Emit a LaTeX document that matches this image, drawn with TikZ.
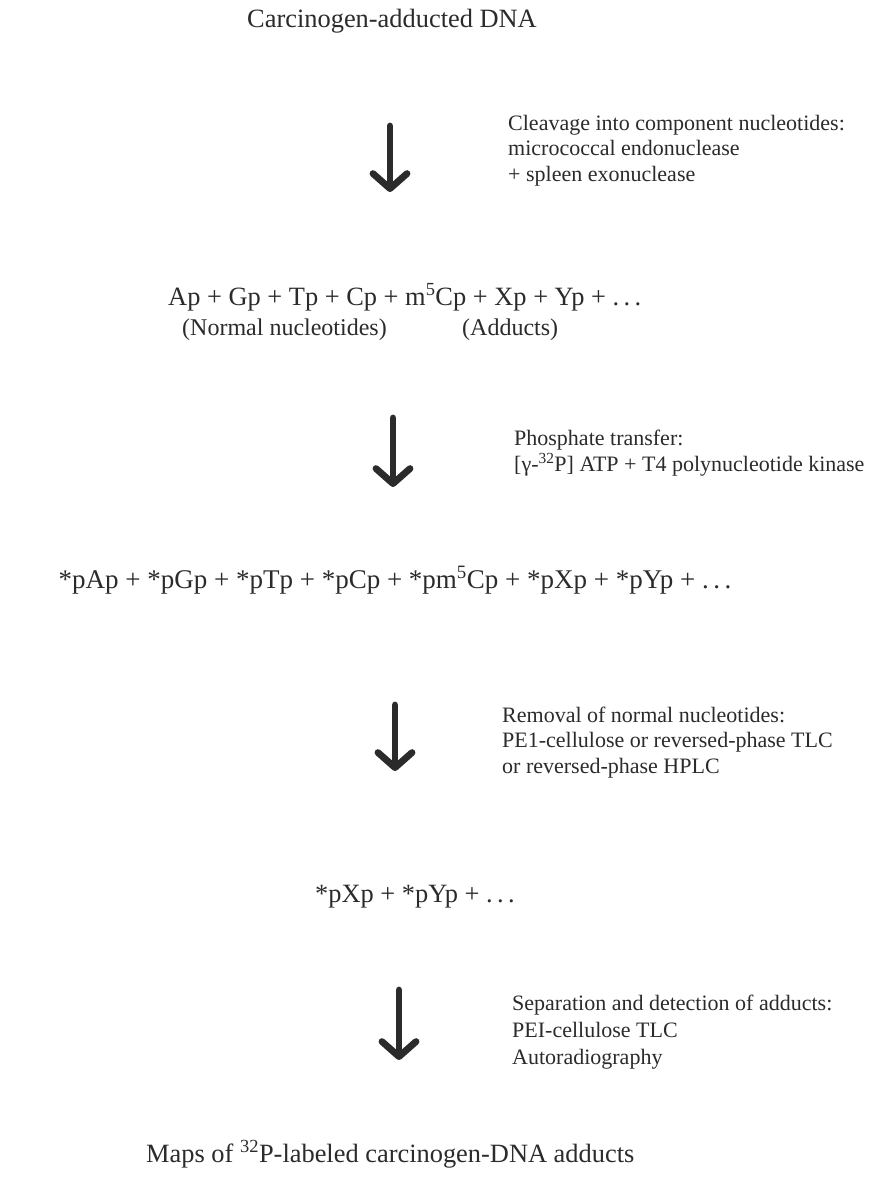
\documentclass[tikz,border=0pt]{standalone}
\usepackage{fontspec}
\setmainfont{Liberation Serif}
\usetikzlibrary{arrows.meta, positioning}
\definecolor{ink}{HTML}{2B2B2B}

\begin{document}
\begin{tikzpicture}[x=1pt, y=-1pt,
    mainline/.style={font=\fontsize{26.4}{30}\selectfont, text=ink, inner sep=0pt, anchor=base},
    steplabel/.style={font=\fontsize{22}{25.5}\selectfont, text=ink, inner sep=0pt,
                      anchor=base west, align=left},
    flow/.style={line width=6.8pt, draw=ink, line cap=round,
                 -{Straight Barb[length=15pt, width=34pt, round]}}]
  % Page
  \useasboundingbox[fill=white] (0,0) rectangle (874,1178);

  % Products, top to bottom
  \node[mainline] (dna) at (392,27) {Carcinogen-adducted DNA};
  \node[mainline, anchor=base west] (nucl) at (168,305)
    {Ap + Gp + Tp + Cp + m\textsuperscript{5}Cp + Xp + Yp + .\,.\,.};
  \node[mainline, anchor=base west, font=\fontsize{24}{28}\selectfont] (normal) at (182,335)
    {(Normal nucleotides)};
  \node[mainline, anchor=base west, font=\fontsize{24}{28}\selectfont] (adducts) at (462,335)
    {(Adducts)};
  \node[mainline, font=\fontsize{27}{30}\selectfont] (labeled) at (395,588)
    {*pAp + *pGp + *pTp + *pCp + *pm\textsuperscript{5}Cp + *pXp + *pYp + .\,.\,.};
  \node[mainline] (adductsx) at (415,902) {*pXp + *pYp + .\,.\,.};
  \node[mainline, anchor=base west] (maps) at (146,1162)
    {Maps of \textsuperscript{32}P-labeled carcinogen-DNA adducts};

  % Steps (anchored on their last line)
  \node[steplabel] (cleave) at (508,181)
    {Cleavage into component nucleotides:\\ micrococcal endonuclease\\ + spleen exonuclease};
  \node[steplabel] (phos) at (514,471)
    {Phosphate transfer:\\ {[}γ-\textsuperscript{32}P{]} ATP + T4 polynucleotide kinase};
  \node[steplabel] (removal) at (502,773)
    {Removal of normal nucleotides:\\ PE1-cellulose or reversed-phase TLC\\ or reversed-phase HPLC};
  \node[steplabel, font=\fontsize{22}{27}\selectfont] (separ) at (512,1064)
    {Separation and detection of adducts:\\ PEI-cellulose TLC\\ Autoradiography};

  % Arrows
  \coordinate (a1) at (390,126);  \coordinate (b1) at (390,192);
  \coordinate (a2) at (393,418);  \coordinate (b2) at (393,487);
  \coordinate (a3) at (395,705);  \coordinate (b3) at (395,771);
  \coordinate (a4) at (399,990);  \coordinate (b4) at (399,1060);
  \draw[flow] (a1) -- (b1);
  \draw[flow] (a2) -- (b2);
  \draw[flow] (a3) -- (b3);
  \draw[flow] (a4) -- (b4);
\end{tikzpicture}
\end{document}
